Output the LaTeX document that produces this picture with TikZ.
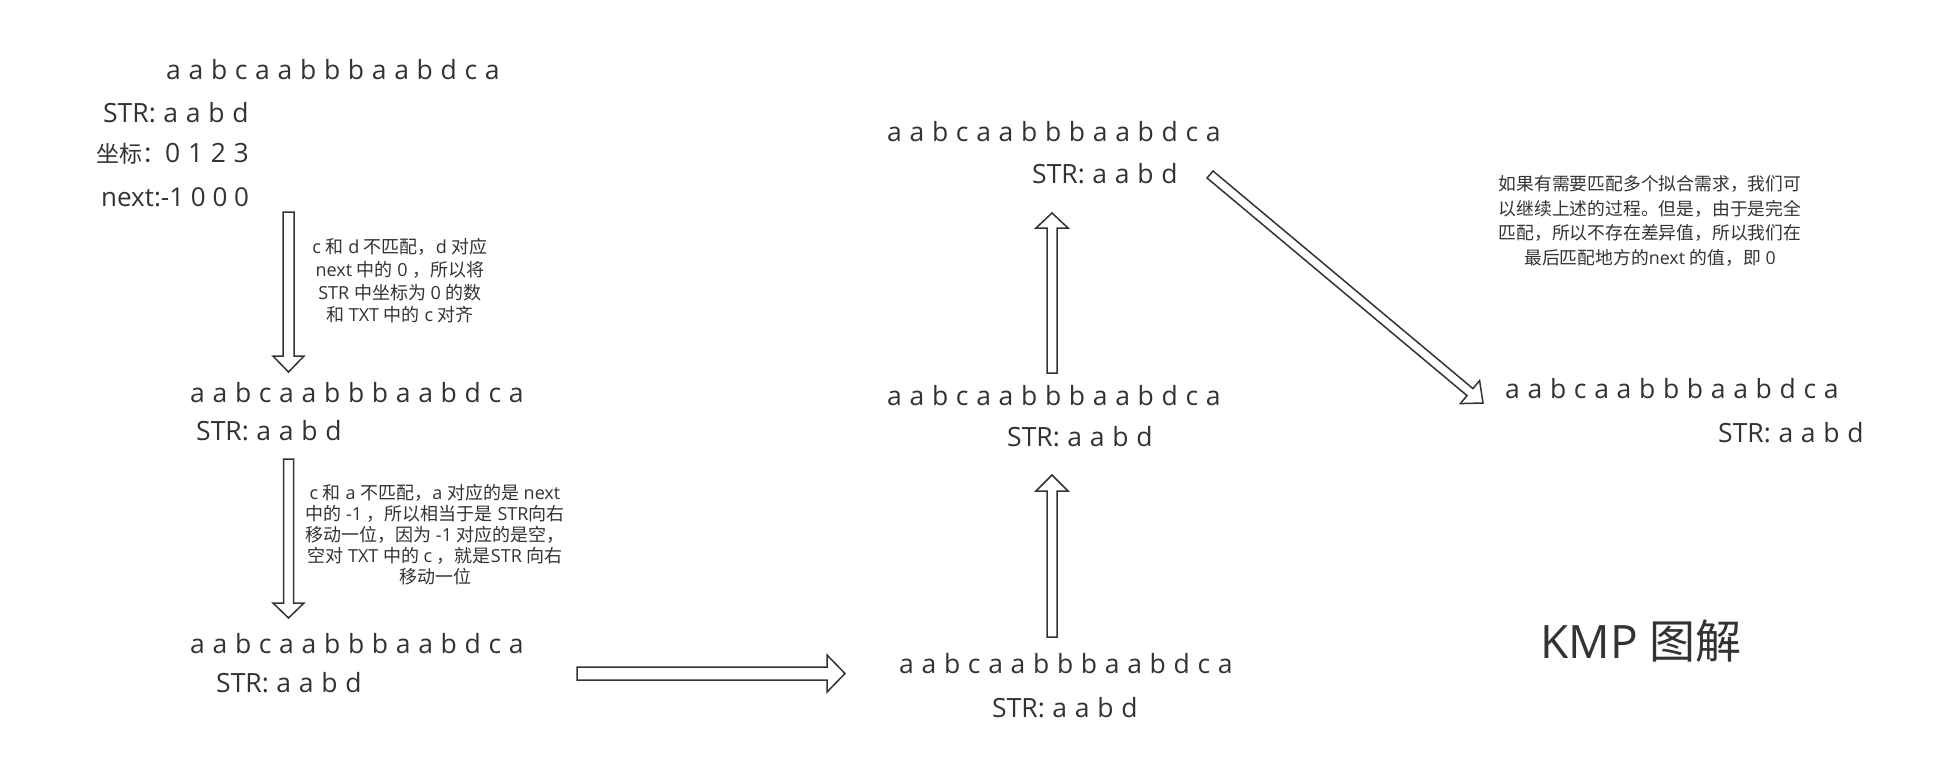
\documentclass[tikz,border=0pt]{standalone}
\usepackage{fontspec}
\setmainfont{Open Sans}
\newfontfamily\cjk{Noto Sans CJK SC}
\usetikzlibrary{calc}
\definecolor{ink}{HTML}{333333}
\newcommand\seqfont{\fontsize{26.5}{32}\selectfont\spaceskip=0.29em\relax}
\tikzset{
  seq/.style={font=\seqfont, text=ink, inner sep=0pt, anchor=base west},
  note/.style={text=ink, align=center, inner sep=0pt},
  arrowline/.style={draw=ink, fill=white, line width=1.5pt, line join=miter},
}
% block arrow: start, end, shaft half width, head half width, head length
\newcommand\blockarrow[5]{%
  \path coordinate (hb) at ($(#2)!#5!(#1)$);
  \draw[arrowline] ($(#1)!#3!90:(#2)$) -- ($(hb)!#3!90:(#2)$) -- ($(hb)!#4!90:(#2)$)
    -- (#2) -- ($(hb)!#4!-90:(#2)$) -- ($(hb)!#3!-90:(#2)$) -- ($(#1)!#3!-90:(#2)$) -- cycle;
}
\begin{document}
\begin{tikzpicture}[x=1pt,y=-1pt]
\fill[white] (0,0) rectangle (1933,761);
\useasboundingbox (0,0) rectangle (1933,761);

% left column
\node[seq] (seq1) at (166,79.5) {a a b c a a b b b a a b d c a};
\node[seq] (str1) at (103,122.5) {STR: a a b d};
\node[seq] (idx1) at (96,162.5) {{\cjk\fontsize{23}{28}\selectfont 坐标：}0 1 2 3};
\node[seq, font=\fontsize{26}{32}\selectfont] (next1) at (101,206.5) {next:-1 0 0 0};

\node[note, font=\fontsize{18}{22.7}\selectfont] (note1) at (400,281)
  {c {\cjk 和} d {\cjk 不匹配，}d {\cjk 对应}\\
   next {\cjk 中的} 0 {\cjk ，所以将}\\
   STR {\cjk 中坐标为} 0 {\cjk 的数}\\
   {\cjk 和} TXT {\cjk 中的} c {\cjk 对齐}};

\node[seq] (seq2) at (190,402) {a a b c a a b b b a a b d c a};
\node[seq] (str2) at (196,440) {STR: a a b d};

\node[note, font=\fontsize{18}{21}\selectfont] (note2) at (435,535)
  {c {\cjk 和} a {\cjk 不匹配，}a {\cjk 对应的是} next\\
   {\cjk 中的} -1 {\cjk ，所以相当于是} STR{\cjk 向右}\\
   {\cjk 移动一位，因为} -1 {\cjk 对应的是空，}\\
   {\cjk 空对} TXT {\cjk 中的} c {\cjk ，就是}STR {\cjk 向右}\\
   {\cjk 移动一位}};

\node[seq] (seq3) at (190,653) {a a b c a a b b b a a b d c a};
\node[seq] (str3) at (216,692) {STR: a a b d};

% middle column
\node[seq] (seq4) at (899,673) {a a b c a a b b b a a b d c a};
\node[seq] (str4) at (992,717) {STR: a a b d};
\node[seq] (seq5) at (887,405) {a a b c a a b b b a a b d c a};
\node[seq] (str5) at (1007,446) {STR: a a b d};
\node[seq] (seq6) at (887,141.5) {a a b c a a b b b a a b d c a};
\node[seq] (str6) at (1032,183) {STR: a a b d};

% right column
\node[seq] (seq7) at (1505,398.5) {a a b c a a b b b a a b d c a};
\node[seq] (str7) at (1718,442) {STR: a a b d};

\node[note, font=\fontsize{17.8}{24.5}\selectfont] (note3) at (1650,221)
  {{\cjk 如果有需要匹配多个拟合需求，我们可}\\
   {\cjk 以继续上述的过程。但是，由于是完全}\\
   {\cjk 匹配，所以不存在差异值，所以我们在}\\
   {\cjk 最后匹配地方的}next {\cjk 的值，即} 0};

\node[seq, font=\fontsize{46}{55}\selectfont] (title) at (1540,658.5) {KMP {\cjk 图解}};

% arrow end points
\coordinate (a1s) at (288.5,212);  \coordinate (a1e) at (288.5,372);
\coordinate (a2s) at (288.5,459);  \coordinate (a2e) at (288.5,618);
\coordinate (a3s) at (577,673.5);  \coordinate (a3e) at (845,673.5);
\coordinate (a4s) at (1052,637);   \coordinate (a4e) at (1052,475);
\coordinate (a5s) at (1052,373);   \coordinate (a5e) at (1052,213);
\coordinate (a6s) at (1210,174.5); \coordinate (a6e) at (1483,403);

\blockarrow{a1s}{a1e}{5.5pt}{15.5pt}{16pt}
\blockarrow{a2s}{a2e}{5pt}{15.5pt}{15pt}
\blockarrow{a3s}{a3e}{6.5pt}{18.5pt}{18pt}
\blockarrow{a4s}{a4e}{5pt}{16pt}{16pt}
\blockarrow{a5s}{a5e}{5pt}{16pt}{15pt}
\blockarrow{a6s}{a6e}{4.6pt}{15pt}{17pt}
\end{tikzpicture}
\end{document}
